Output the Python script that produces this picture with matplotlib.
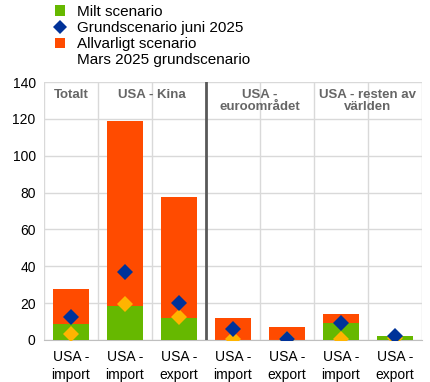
import numpy as np
import matplotlib
matplotlib.use("Agg")
import matplotlib.pyplot as plt
from matplotlib.lines import Line2D
from matplotlib.patches import Patch

# Data
categories = ["USA -\nimport", "USA -\nimport", "USA -\nexport", "USA -\nimport",
              "USA -\nexport", "USA -\nimport", "USA -\nexport"]
milt = [8.7, 18.4, 12.1, 0.0, 0.0, 9.0, 2.2]
allvarligt = [27.7, 118.8, 77.6, 11.9, 7.1, 14.1, 2.0]
grund_juni = [12.3, 36.7, 20.3, 6.0, 0.7, 9.2, 2.2]
grund_mars = [3.3, 19.7, 12.7, 0.5, 0.3, 0.5, 1.2]
groups = ["Totalt", "USA - Kina", "USA -\neuroområdet", "USA - resten av\nvärlden"]
group_centers = [0, 1.5, 3.5, 5.5]

green = "#66b800"
orange = "#ff4b00"
blue = "#003299"
yellow = "#ffb400"
grey_txt = "#666666"

plt.rcParams["font.family"] = ["Liberation Sans", "DejaVu Sans"]

fig = plt.figure(figsize=(4.3, 3.82), dpi=100)
ax = fig.add_axes([0.1023, 0.11, 0.879, 0.675])

x = np.arange(len(categories))
ax.bar(x, allvarligt, width=0.68, color=orange, zorder=2)
ax.bar(x, milt, width=0.68, color=green, zorder=3)
ax.plot(x, grund_mars, linestyle="none", marker="D", ms=8, color=yellow,
        markeredgewidth=0, zorder=4)
ax.plot(x, grund_juni, linestyle="none", marker="D", ms=8, color=blue,
        markeredgewidth=0, zorder=5)

ax.set_xlim(-0.5, len(categories) - 0.5)
ax.set_ylim(0, 140)
ax.set_yticks(range(0, 141, 20))
ax.set_xticks(x)
ax.set_xticklabels(categories, fontsize=10, linespacing=1.35)
ax.tick_params(axis="y", labelsize=10, length=0, pad=6)
ax.tick_params(axis="x", length=0, pad=7)

# grid: horizontal lines and category separators
ax.yaxis.grid(True, color="#d9d9d9", linewidth=1, zorder=0)
for b in np.arange(-0.5, len(categories), 1.0):
    ax.axvline(b, color="#d9d9d9", linewidth=1, zorder=1)
ax.axvline(2.5, color="#595959", linewidth=2, zorder=6)
for s in ["top", "right", "left"]:
    ax.spines[s].set_visible(False)
ax.spines["bottom"].set_color("#bfbfbf")
ax.set_axisbelow(True)

for label, cx in zip(groups, group_centers):
    ax.text(cx, 136.5, label, ha="center", va="top", fontsize=9.5,
            fontweight="bold", color=grey_txt, linespacing=1.0, zorder=7)

handles = [
    Patch(facecolor=green, edgecolor="none"),
    Line2D([], [], linestyle="none", marker="D", ms=7, color=blue, markeredgewidth=0),
    Patch(facecolor=orange, edgecolor="none"),
    Line2D([], [], linestyle="none", marker="D", ms=7, color="none", markeredgewidth=0),
]
labels = ["Milt scenario", "Grundscenario juni 2025", "Allvarligt scenario",
          "Mars 2025 grundscenario"]
fig.legend(handles, labels, loc="upper left", bbox_to_anchor=(0.113, 1.003),
           frameon=False, fontsize=11, handlelength=0.65, handleheight=0.65,
           handletextpad=0.8, labelspacing=0.14, borderaxespad=0)

fig.savefig("out.png", dpi=100)
